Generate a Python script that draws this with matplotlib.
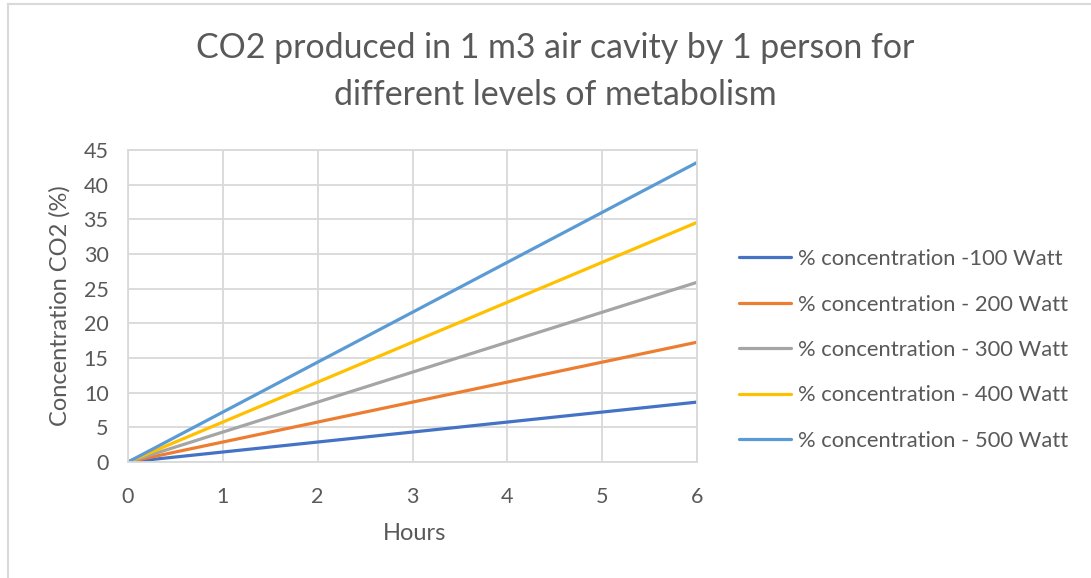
import numpy as np
import matplotlib.pyplot as plt

plt.rcParams['font.family'] = ['Lato', 'DejaVu Sans']

# data: CO2 concentration (%) per hour
hours = [0, 1, 2, 3, 4, 5, 6]
c100 = [0, 1.44, 2.88, 4.32, 5.76, 7.20, 8.64]
c200 = [0, 2.88, 5.76, 8.64, 11.52, 14.40, 17.28]
c300 = [0, 4.32, 8.64, 12.96, 17.28, 21.60, 25.92]
c400 = [0, 5.76, 11.52, 17.28, 23.04, 28.80, 34.56]
c500 = [0, 7.20, 14.40, 21.60, 28.80, 36.00, 43.20]
labels = ['% concentration -100 Watt', '% concentration - 200 Watt',
          '% concentration - 300 Watt', '% concentration - 400 Watt',
          '% concentration - 500 Watt']
colors = ['#4472C4', '#ED7D31', '#A5A5A5', '#FFC000', '#5B9BD5']

txt = '#595959'
grid = '#d9d9d9'

fig = plt.figure(figsize=(10.91, 5.78), dpi=100)
ax = fig.add_axes([128/1091, 1-462/578, (697-128)/1091, (462-150)/578])

for y, lab, col in zip([c100, c200, c300, c400, c500], labels, colors):
    ax.plot(hours, y, color=col, lw=2.3, label=lab, solid_capstyle='round')

ax.set_xlim(0, 6)
ax.set_ylim(0, 45)
ax.set_xticks(range(0, 7))
ax.set_yticks(range(0, 46, 5))
ax.grid(True, color=grid, lw=1.3)
ax.set_axisbelow(True)
for s in ax.spines.values():
    s.set_color(grid)
    s.set_linewidth(1.3)
ax.tick_params(length=0, labelsize=15.5, labelcolor=txt)
ax.tick_params(axis='x', pad=18)
ax.tick_params(axis='y', pad=14)
ax.set_xlabel('Hours', fontsize=17, color=txt, va='center')
ax.xaxis.set_label_coords(0.503, -(534-462)/312)
ax.set_ylabel('Concentration CO2 (%)', fontsize=17, color=txt, va='center')
ax.yaxis.set_label_coords(-(128-60)/569, 0.5)

fig.text(555/1091, 1-71.5/578, 'CO2 produced in 1 m3 air cavity by 1 person for\ndifferent levels of metabolism',
         ha='center', va='center', fontsize=24.4, color=txt, linespacing=1.59)

leg = ax.legend(loc='center left', bbox_to_anchor=(719/1091, 1-350/578), bbox_transform=fig.transFigure,
                frameon=False, fontsize=15.8, labelspacing=1.16, handlelength=2.4, handletextpad=0.3)
for t in leg.get_texts():
    t.set_color(txt)

# chart area border (top and left edges visible)
fig.add_artist(plt.Line2D([8/1091, 8/1091], [0, 1-4/578], transform=fig.transFigure, color=grid, lw=1.5))
fig.add_artist(plt.Line2D([8/1091, 1], [1-4/578, 1-4/578], transform=fig.transFigure, color=grid, lw=1.5))

fig.savefig('out.png', dpi=100)
